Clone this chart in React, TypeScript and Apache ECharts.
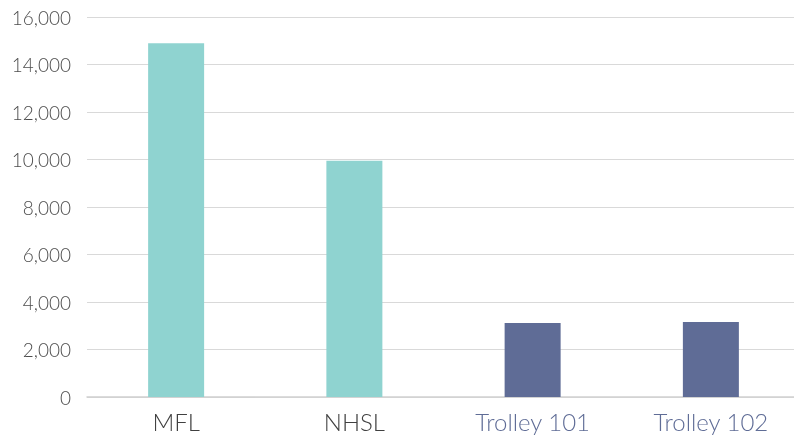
import React, { useEffect, useRef } from "react";
import * as echarts from "echarts";

const categories = ["MFL", "NHSL", "Trolley 101", "Trolley 102"];
const values = [14900, 9950, 3120, 3160];
const barColors = ["#8fd3d0", "#8fd3d0", "#5f6c96", "#5f6c96"];
const labelColors = ["#404040", "#404040", "#5f6c96", "#5f6c96"];
const yTicks = { min: 0, max: 16000, interval: 2000 };

export default function App() {
  const ref = useRef<HTMLDivElement>(null);
  useEffect(() => {
    if (!ref.current) return;
    const chart = echarts.init(ref.current, undefined, { renderer: "svg" });
    chart.setOption({
      animation: false,
      grid: { left: 87, top: 17, bottom: 41, right: 0, containLabel: false },
      xAxis: {
        type: "category",
        data: categories,
        axisTick: { show: false },
        axisLine: { lineStyle: { color: "#d0d0d0", width: 1.5 } },
        axisLabel: {
          margin: 11,
          fontFamily: "Lato",
          fontWeight: 300,
          fontSize: 24,
          lineHeight: 26,
          color: (_v: string, i: number) => labelColors[i],
        },
      },
      yAxis: {
        type: "value",
        min: yTicks.min,
        max: yTicks.max,
        interval: yTicks.interval,
        axisLine: { show: false },
        axisTick: { show: false },
        splitLine: { lineStyle: { color: "#d9d9d9", width: 1 } },
        axisLabel: {
          margin: 16,
          fontFamily: "Lato",
          fontWeight: 300,
          fontSize: 19,
          color: "#4d4d4d",
          formatter: (v: number) => v.toLocaleString("en-US"),
        },
      },
      series: [
        {
          type: "bar",
          barWidth: 56,
          data: values.map((v, i) => ({ value: v, itemStyle: { color: barColors[i] } })),
        },
      ],
    });
    return () => chart.dispose();
  }, []);
  return (
    <div style={{ position: "fixed", left: 0, top: 0, width: 794, height: 438, overflow: "hidden" }}>
      <div ref={ref} style={{ width: 800, height: 438 }} />
    </div>
  );
}
